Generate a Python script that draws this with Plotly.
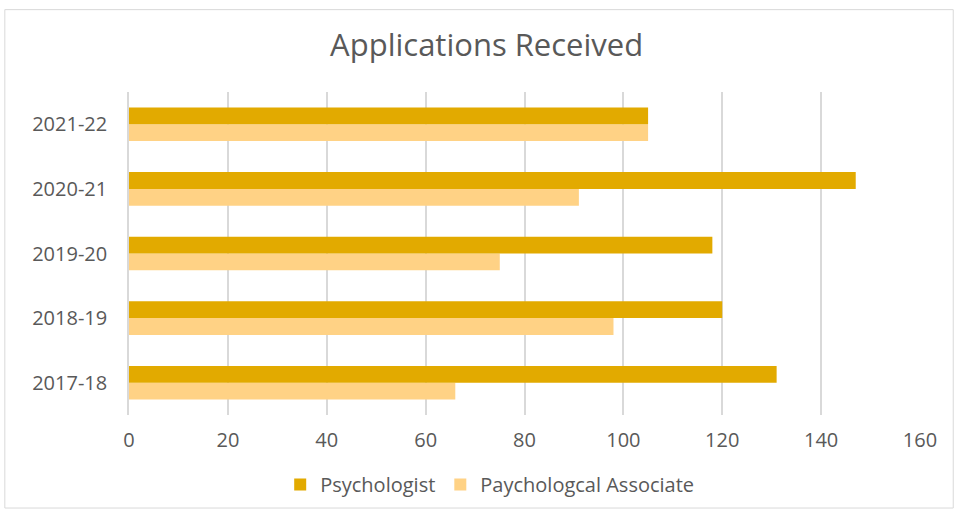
import plotly.graph_objects as go

categories = ["2017-18", "2018-19", "2019-20", "2020-21", "2021-22"]
psychologist = [131, 120, 118, 147, 105]
associate = [66, 98, 75, 91, 105]
x_ticks = [0, 20, 40, 60, 80, 100, 120, 140, 160]

FONT = "Open Sans, sans-serif"
GREY = "#595959"

fig = go.Figure()
fig.add_trace(go.Bar(y=categories, x=associate, orientation="h",
                     name="Paychologcal Associate", marker_color="#FFD285",
                     marker_line_width=0))
fig.add_trace(go.Bar(y=categories, x=psychologist, orientation="h",
                     name="Psychologist", marker_color="#E2AA00",
                     marker_line_width=0))

fig.update_layout(
    width=958, height=516,
    margin=dict(l=129, r=38, t=92, b=98),
    paper_bgcolor="white", plot_bgcolor="white",
    barmode="group", bargap=0.48, bargroupgap=0,
    title=dict(text="Applications Received", x=0.508, xanchor="center",
               y=1 - 45 / 516, yanchor="middle",
               font=dict(family=FONT, size=31, color=GREY)),
    font=dict(family=FONT, size=20, color=GREY),
    legend=dict(orientation="h", x=0.456, xanchor="center",
                y=-0.215, yanchor="middle", traceorder="reversed",
                font=dict(family=FONT, size=20, color=GREY)),
    xaxis=dict(range=[0, 160], tickvals=x_ticks, showgrid=True,
               gridcolor="#D9D9D9", gridwidth=1.5, zeroline=False,
               showline=False, ticks="", ticklabelstandoff=11,
               tickfont=dict(family=FONT, size=20, color=GREY), fixedrange=True),
    yaxis=dict(showgrid=False, showline=True, linecolor="#D9D9D9", linewidth=1.5,
               ticks="", ticklabelstandoff=16,
               tickfont=dict(family=FONT, size=20, color=GREY)),
    shapes=[dict(type="rect", xref="paper", yref="paper",
                 x0=-0.157, x1=1.042, y0=-0.288, y1=1.255,
                 line=dict(color="#D9D9D9", width=1), fillcolor="rgba(0,0,0,0)")],
)

fig.write_html("out.html", config={"displayModeBar": False},
               post_script="document.body.style.margin='0';document.body.style.overflow='hidden';")
